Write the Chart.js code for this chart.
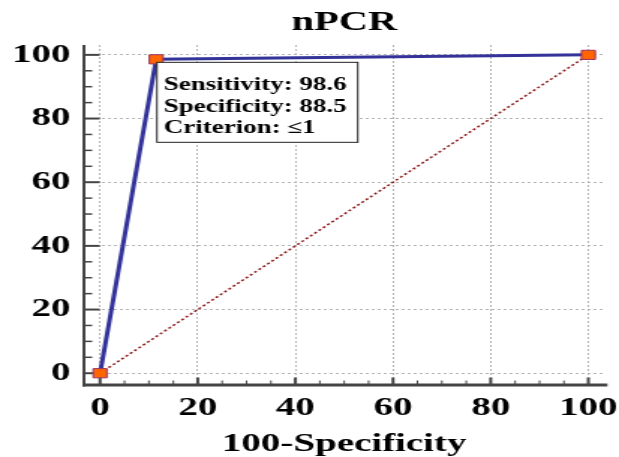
<!DOCTYPE html>
<html>
<head>
<meta charset="utf-8">
<script src="https://cdn.jsdelivr.net/npm/chart.js@4"></script>
<style>
  body { margin: 0; background: #fff; }
</style>
</head>
<body>
<!-- the original picture is stretched sideways, so the canvas is drawn narrow and shown wide -->
<canvas id="roc" width="413" height="457" style="display:block;width:619px;height:457px"></canvas>
<script>
const titleText = "nPCR"
const xTitle = "100-Specificity"
const rocX = [0, 11.5, 100]
const rocY = [0, 98.6, 100]
const refX = [0, 100]
const refY = [0, 100]
const boxPoint = [11.5, 98.6]
const boxLines = ["Sensitivity: 98.6", "Specificity: 88.5", "Criterion: \u22641"]

const serif = "'Liberation Serif', 'Times New Roman', serif"

function toPoints(xs, ys) {
    return xs.map((x, i) => { return { x: x, y: ys[i] } })
}

function noPadding(scale) {
    scale.paddingLeft = 0
    scale.paddingRight = 0
    scale.paddingTop = 0
    scale.paddingBottom = 0
}

// axis lines with inward ticks, and the little text box
const rocDecor = {
    id: 'rocDecor',
    beforeDatasetsDraw(chart) {
        const ctx = chart.ctx
        const a = chart.chartArea
        const xs = chart.scales.x, ys = chart.scales.y
        ctx.save()
        ctx.strokeStyle = '#444'
        for (let v = 0; v <= 100; v += 5) {
            const major = v % 20 == 0
            const px = xs.getPixelForValue(v)
            ctx.lineWidth = major ? 2 : 1
            ctx.beginPath()
            ctx.moveTo(px, a.bottom)
            ctx.lineTo(px, a.bottom - (major ? 7.5 : 4.5))
            ctx.stroke()
            const py = ys.getPixelForValue(v)
            ctx.lineWidth = major ? 2 : 1.5
            ctx.beginPath()
            ctx.moveTo(a.left, py)
            ctx.lineTo(a.left + (major ? 10.5 : 5.5), py)
            ctx.stroke()
        }
        ctx.lineWidth = 2
        ctx.beginPath()
        ctx.moveTo(a.left, a.top)
        ctx.lineTo(a.left, a.bottom + 1.5)
        ctx.stroke()
        ctx.lineWidth = 3
        ctx.beginPath()
        ctx.moveTo(a.left - 1, a.bottom)
        ctx.lineTo(a.right + 2, a.bottom)
        ctx.stroke()
        ctx.restore()
    },
    afterDraw(chart) {
        const ctx = chart.ctx
        const bx = chart.scales.x.getPixelForValue(boxPoint[0]) + 0.5
        const by = chart.scales.y.getPixelForValue(boxPoint[1]) + 3
        ctx.save()
        ctx.fillStyle = '#fff'
        ctx.strokeStyle = '#222'
        ctx.lineWidth = 1
        ctx.fillRect(bx, by, 134, 80)
        ctx.strokeRect(bx, by, 134, 80)
        ctx.fillStyle = '#000'
        ctx.font = "bold 18px " + serif
        ctx.textBaseline = 'alphabetic'
        boxLines.forEach((t, i) => {
            ctx.fillText(t, bx + 4.5, by + 28 + i * 21.5)
        })
        ctx.restore()
    }
}

new Chart(document.getElementById('roc'), {
    type: 'scatter',
    data: {
        datasets: [{
            label: 'ROC',
            data: toPoints(rocX, rocY),
            showLine: true,
            borderColor: '#333399',
            borderWidth: 3,
            pointStyle: 'rect',
            pointRadius: 6.5,
            pointBackgroundColor: '#ff6600',
            pointBorderColor: '#993366',
            pointBorderWidth: 1,
            order: 0
        },
        {
            label: 'Reference',
            data: toPoints(refX, refY),
            showLine: true,
            borderColor: '#8b1a1a',
            borderWidth: 1.5,
            borderDash: [2, 2],
            pointRadius: 0,
            order: 1
        }]
    },
    options: {
        responsive: false,
        devicePixelRatio: 1,
        animation: false,
        layout: { padding: { left: 0, right: 9.7, top: 0, bottom: 0 } },
        plugins: {
            legend: { display: false },
            tooltip: { enabled: false },
            title: {
                display: true,
                text: titleText,
                fullSize: false,
                color: '#000',
                font: { family: serif, size: 27, weight: 'bold', lineHeight: 1 },
                padding: { top: 10, bottom: 8 }
            }
        },
        scales: {
            x: {
                type: 'linear',
                min: -3.3,
                max: 103.3,
                afterFit(scale) { scale.height = 72; noPadding(scale) },
                border: { display: false, dash: [2, 2] },
                grid: { color: '#b4b4b4', drawTicks: false },
                ticks: {
                    stepSize: 20,
                    includeBounds: false,
                    padding: 8,
                    color: '#000',
                    maxRotation: 0,
                    font: { family: serif, size: 26, weight: 'bold' }
                },
                title: {
                    display: true,
                    text: xTitle,
                    color: '#000',
                    font: { family: serif, size: 26, weight: 'bold', lineHeight: 1 },
                    padding: { top: 0, bottom: 0 }
                }
            },
            y: {
                type: 'linear',
                min: -3.7,
                max: 103.1,
                afterFit(scale) { scale.width = 56; noPadding(scale) },
                border: { display: false, dash: [2, 2] },
                grid: { color: '#b4b4b4', drawTicks: false },
                ticks: {
                    stepSize: 20,
                    includeBounds: false,
                    padding: 9,
                    color: '#000',
                    font: { family: serif, size: 26, weight: 'bold' }
                }
            }
        }
    },
    plugins: [rocDecor]
})
</script>
</body>
</html>
